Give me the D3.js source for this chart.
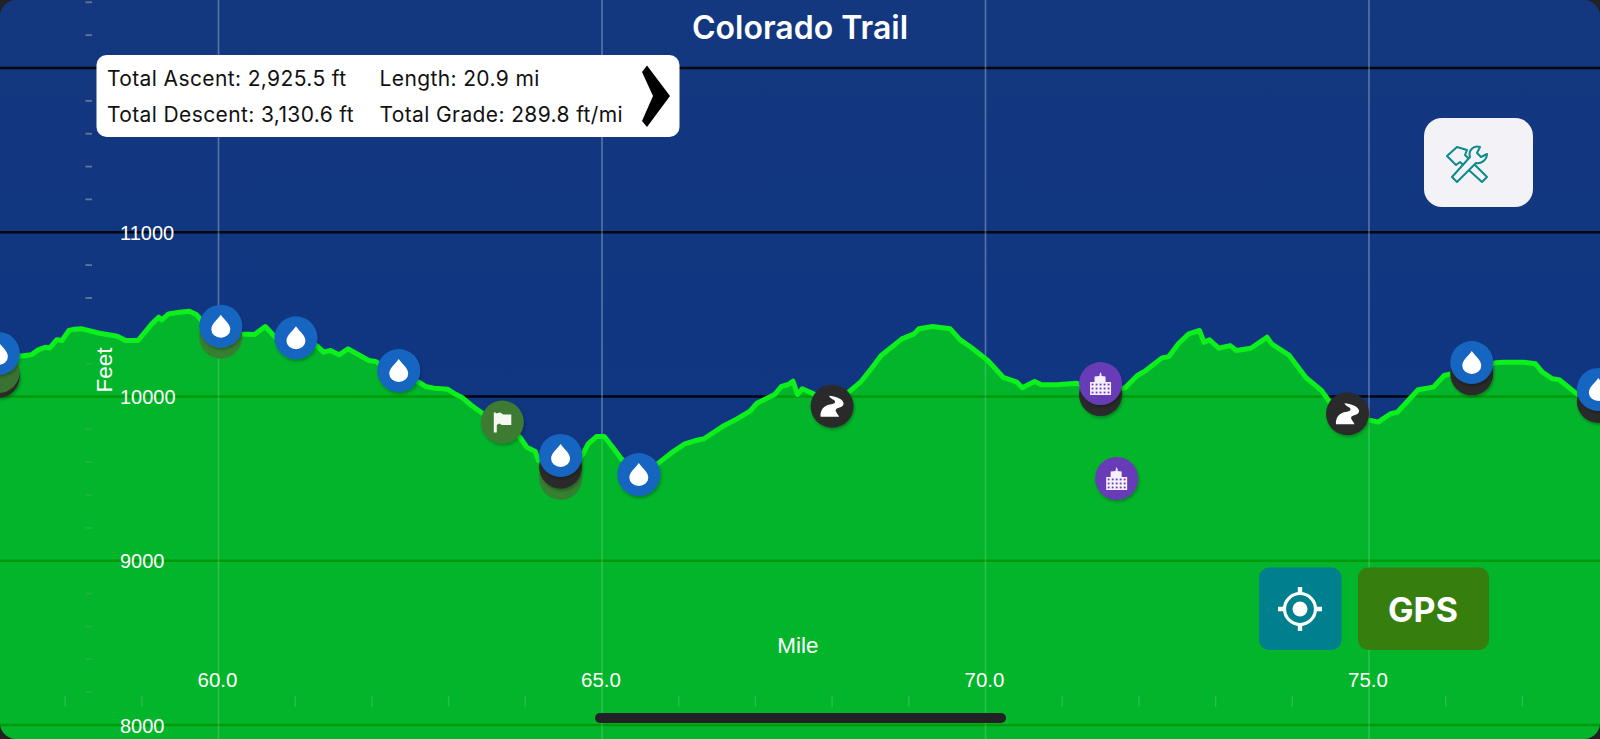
<!DOCTYPE html>
<html><head><meta charset="utf-8">
<script src="https://cdn.jsdelivr.net/npm/d3@7/dist/d3.min.js"></script>
<style>
html,body{margin:0;padding:0;background:#12377f;overflow:hidden}
svg{display:block}
text{font-family:"Liberation Sans",Arial,sans-serif}
</style></head><body>
<svg id="c" width="1600" height="739"></svg>
<script>
const miles=[57.13,57.25,57.40,57.56,57.65,57.74,57.80,57.89,57.96,58.05,58.12,58.22,58.45,58.68,58.79,58.95,59.04,59.13,59.22,59.26,59.35,59.49,59.62,59.71,59.78,60.02,60.16,60.29,60.47,60.61,60.74,61.01,61.28,61.37,61.46,61.57,61.69,61.82,61.96,62.05,62.13,62.36,62.61,62.70,62.81,62.99,63.08,63.17,63.30,63.44,63.71,63.93,64.02,64.13,64.17,64.46,64.74,64.82,64.93,65.03,65.14,65.25,65.48,65.74,65.90,66.08,66.22,66.33,66.57,66.76,66.93,67.02,67.25,67.34,67.43,67.49,67.55,67.61,67.76,68.01,68.23,68.37,68.51,68.64,68.91,69.07,69.13,69.31,69.54,69.67,69.81,70.03,70.23,70.41,70.48,70.64,70.73,70.93,71.19,71.50,71.82,71.98,72.09,72.30,72.39,72.52,72.65,72.79,72.85,72.92,73.04,73.19,73.27,73.46,73.67,73.73,73.96,74.18,74.38,74.49,74.72,74.99,75.12,75.28,75.37,75.64,75.84,75.98,76.07,76.34,76.65,76.76,77.01,77.17,77.26,77.39,77.48,77.71,78.02];
const feet=[10225,10235,10245,10254,10284,10300,10296,10345,10341,10402,10410,10412,10385,10367,10341,10341,10391,10442,10483,10467,10503,10513,10519,10499,10463,10414,10391,10381,10377,10426,10361,10341,10310,10270,10280,10254,10290,10256,10219,10213,10189,10138,10087,10061,10051,10044,10016,9996,9945,9898,9844,9752,9691,9665,9611,9550,9641,9712,9757,9757,9691,9621,9531,9596,9655,9712,9732,9743,9817,9864,9911,9959,10012,10061,10073,10093,10012,10047,10016,9957,10032,10087,10169,10250,10351,10381,10412,10426,10412,10345,10300,10219,10117,10087,10053,10091,10071,10071,10081,10018,10053,10128,10158,10235,10243,10324,10381,10402,10330,10345,10294,10310,10280,10294,10361,10321,10250,10114,10037,9965,9897,9858,9844,9895,9904,10041,10057,10128,10138,10170,10205,10209,10209,10199,10148,10108,10102,10016,9915];
const majorFeet=[8000,9000,10000,11000,12000];
const labelFeet=[8000,9000,10000,11000];
const majorMiles=[60,65,70,75];
const minorMiles=[58,59,61,62,63,64,66,67,68,69,71,72,73,74,76,77];
const markerMiles=[57.13,57.13,57.13,60.03,60.03,61.01,62.35,63.70,64.46,64.46,64.46,65.48,68.00,71.50,71.50,71.71,74.72,76.34,76.34,77.99,77.99];
const markerFeet=[10123,10152,10262,10361,10428,10357,10158,9844,9501,9570,9641,9525,9941,10012,10079,9501,9895,10138,10207,9970,10043];
const markerKind=["dark","olive","water","olive","water","water","water","flag","olive","dark","water","water","road","dark","building","building","road","dark","water","dark","water"];
const statsLeft=["Total Ascent: 2,925.5 ft","Total Descent: 3,130.6 ft"];
const statsRight=["Length: 20.9 mi","Total Grade: 289.8 ft/mi"];

const W=1600,H=739;
const svg=d3.select("#c");
const x=d3.scaleLinear().domain([60,75]).range([218.5,1369]);
const y=d3.scaleLinear().domain([8000,12000]).range([725,68]);
const pts=miles.map((m,i)=>[m,feet[i]]);
const defs=svg.append("defs");
const bg=defs.append("linearGradient").attr("id","bg").attr("x1",0).attr("x2",0).attr("y1",0).attr("y2",1);
bg.append("stop").attr("offset",0).attr("stop-color","#13387f");
bg.append("stop").attr("offset",1).attr("stop-color","#0f3484");
const sh=defs.append("filter").attr("id","sh").attr("x","-30%").attr("y","-30%").attr("width","160%").attr("height","160%");
sh.append("feDropShadow").attr("dx",1).attr("dy",2).attr("stdDeviation",1.6).attr("flood-color","#000").attr("flood-opacity",.28);

svg.append("rect").attr("width",W).attr("height",H).attr("fill","url(#bg)");
const gridY=(g,c,w)=>g.selectAll("line").data(majorFeet).join("line").attr("x1",0).attr("x2",W)
  .attr("y1",d=>y(d)).attr("y2",d=>y(d)).attr("stroke",c).attr("stroke-width",w);
const gridX=(g,o)=>g.selectAll("line").data(majorMiles).join("line")
  .attr("x1",d=>x(d)).attr("x2",d=>x(d)).attr("y1",0).attr("y2",H)
  .attr("stroke","#fff").attr("stroke-opacity",o).attr("stroke-width",1.6);
const minorY=(g,o)=>g.selectAll("line").data(d3.range(8200,12500,200).filter(d=>d%1000)).join("line")
  .attr("x1",85.5).attr("x2",92).attr("y1",d=>y(d)).attr("y2",d=>y(d))
  .attr("stroke","#c8c8b0").attr("stroke-opacity",o).attr("stroke-width",1.8);
svg.append("g").call(gridY,"#03070f",2.6);
svg.append("g").call(gridX,.3);
svg.append("g").call(minorY,.45);

const area=d3.area().x(d=>x(d[0])).y0(H).y1(d=>y(d[1]));
const line=d3.line().x(d=>x(d[0])).y(d=>y(d[1]));
svg.append("path").attr("d",area(pts)).attr("fill","#03b52b");
defs.append("clipPath").attr("id","under").append("path").attr("d",area(pts));
const under=svg.append("g").attr("clip-path","url(#under)");
under.append("g").call(gridY,"#029a0a",2.6);
under.append("g").call(gridX,.16);
under.append("g").call(minorY,.14);
svg.append("path").attr("d",line(pts)).attr("fill","none").attr("stroke","#0cf01c").attr("stroke-width",5).attr("stroke-linejoin","round");

svg.append("g").selectAll("line").data(minorMiles).join("line")
  .attr("x1",d=>x(d)).attr("x2",d=>x(d)).attr("y1",696).attr("y2",707)
  .attr("stroke","#fff").attr("stroke-opacity",.14).attr("stroke-width",1.5);

// axes
const axL=d3.axisLeft(y).tickValues(labelFeet).tickSize(0).tickPadding(0).tickFormat(d3.format("d"));
const gl=svg.append("g").attr("transform","translate(120,0)").call(axL);
gl.select(".domain").remove();
gl.selectAll("text").attr("text-anchor","start").attr("fill","#fff").attr("font-size",20).attr("font-family","Liberation Sans").attr("dy","0.35em").attr("x",0);
const axB=d3.axisBottom(x).tickValues(majorMiles).tickSize(0).tickPadding(0).tickFormat(d3.format(".1f"));
const gb=svg.append("g").attr("transform","translate(-1.5,672)").call(axB);
gb.select(".domain").remove();
gb.selectAll("text").attr("fill","#fff").attr("font-size",20.5).attr("font-family","Liberation Sans").attr("dy","0.71em").attr("y",0);
svg.append("text").attr("transform","translate(112,370) rotate(-90)").attr("text-anchor","middle").attr("fill","#fff").attr("font-size",22.5).text("Feet");
svg.append("text").attr("x",798).attr("y",653).attr("text-anchor","middle").attr("fill","#fff").attr("font-size",22.5).text("Mile");

// markers
const fills={water:"#1565c0",dark:"#2b2b2b",olive:"#3c7a32",flag:"#3c7a32",road:"#2b2b2b",building:"#673ab7"};
const icons={
 water:g=>g.append("path").attr("d","M0,-11.5C2.5,-7.5 9.5,-2.5 9.5,3A9.5,8.5 0 0 1 -9.5,3C-9.5,-2.5 -2.5,-7.5 0,-11.5Z").attr("fill","#fff"),
 flag:g=>g.append("path").attr("d","M-8.5,-9.5H-6.5V-8.5L-2,-9.5L1,-7.5H9V3H-0.5L-3,1.5L-5.5,3V10.5H-8.5Z").attr("fill","#f4f7f2"),
 road:g=>g.append("path").attr("d","M-3,-10.5C3,-10 12,-7 11.5,-2.5C11,2 4,1 3.5,4C3.5,6 6,8 7,10.5H-11.5C-12,6 -10,1 -5,-1C-1,-2.5 3,-2 3,-4.5C3,-7 -2,-7 -3,-10.5Z").attr("fill","#fff"),
 building:g=>{
  g.append("path").attr("d","M-10.5,11.5V-1.5H-6V-7L-1,-7.5V-9L0,-11.5L1,-9V-7.5L5,-7V-1.5H10.5V11.5Z").attr("fill","#f5f0fb");
  for(const wx of [-8,-4,0,4,8]) for(const wy of [1,5,9]) g.append("rect").attr("x",wx-.9).attr("y",wy-.9).attr("width",1.8).attr("height",1.8).attr("fill","#673ab7");
 }
};
markerKind.forEach((k,i)=>{
  const g=svg.append("g").attr("transform",`translate(${x(markerMiles[i])},${y(markerFeet[i])})`);
  g.append("circle").attr("r",21.5).attr("fill",fills[k]).attr("filter",k==="olive"?null:"url(#sh)").attr("opacity",k==="olive"?.9:1);
  if(icons[k]) icons[k](g);
});

// title
svg.append("text").attr("x",800).attr("y",39).attr("text-anchor","middle").attr("fill","#fff").attr("font-size",32).attr("font-weight",600).style("font-family","Inter").text("Colorado Trail");

// stats panel
svg.append("rect").attr("x",96.5).attr("y",55).attr("width",583).attr("height",82).attr("rx",10).attr("fill","#fff");
const stat=(arr,px)=>svg.append("g").selectAll("text").data(arr).join("text").attr("x",px).attr("y",(d,i)=>86+i*36)
  .attr("fill","#111").attr("font-size",21).attr("letter-spacing",.38).style("font-family","Inter").text(d=>d);
stat(statsLeft,107);stat(statsRight,379.5);
svg.append("path").attr("d","M642,72L647,65.5L670,96L647,127L642,121L653,96Z").attr("fill","#000");

// tool button
svg.append("rect").attr("x",1424).attr("y",118).attr("width",109).attr("height",89).attr("rx",18).attr("fill","#f2f2f7");
const tool=svg.append("g").attr("transform","translate(1467,163)").attr("fill","none").attr("stroke","#0c8a8c").attr("stroke-width",2).attr("stroke-linejoin","round");
tool.append("path").attr("d","M-20,-7L-10,-16L0,-13L-2,-8L20,14L15,19L-7,-1L-11,2Z");
tool.append("path").attr("d","M-15,14L-10,19L9,0C14,1 20,-3 20,-9L14,-6L10,-10L13,-16C6,-18 1,-12 3,-6Z").attr("fill","#f2f2f7");

// bottom buttons
svg.append("rect").attr("x",1259).attr("y",567.5).attr("width",82.5).attr("height",82.5).attr("rx",10).attr("fill","#00808e");
svg.append("rect").attr("x",1358).attr("y",567.5).attr("width",131).attr("height",82.5).attr("rx",10).attr("fill","#367e0e");
const t=svg.append("g").attr("transform","translate(1300,609)");
t.append("circle").attr("r",7.5).attr("fill","#fff");
t.append("circle").attr("r",15.5).attr("fill","none").attr("stroke","#fff").attr("stroke-width",3.2);
t.append("path").attr("d","M0,-22V-15M0,22V15M-22,0H-15M22,0H15").attr("stroke","#fff").attr("stroke-width",4.4);
svg.append("text").attr("x",1423).attr("y",621.5).attr("text-anchor","middle").attr("fill","#fff").attr("font-size",34).attr("font-weight",700).style("font-family","Inter").text("GPS");

// home indicator and screen corners
svg.append("rect").attr("x",595).attr("y",713).attr("width",411).attr("height",10).attr("rx",5).attr("fill","#222226");
const r=16;
svg.append("path").attr("fill","#222226").attr("d",
 `M0,0H${r}A${r},${r} 0 0 0 0,${r}Z M${W},0V${r}A${r},${r} 0 0 0 ${W-r},0Z M${W},${H}H${W-r}A${r},${r} 0 0 0 ${W},${H-r}Z M0,${H}V${H-r}A${r},${r} 0 0 0 ${r},${H}Z`);
</script>
</body></html>
